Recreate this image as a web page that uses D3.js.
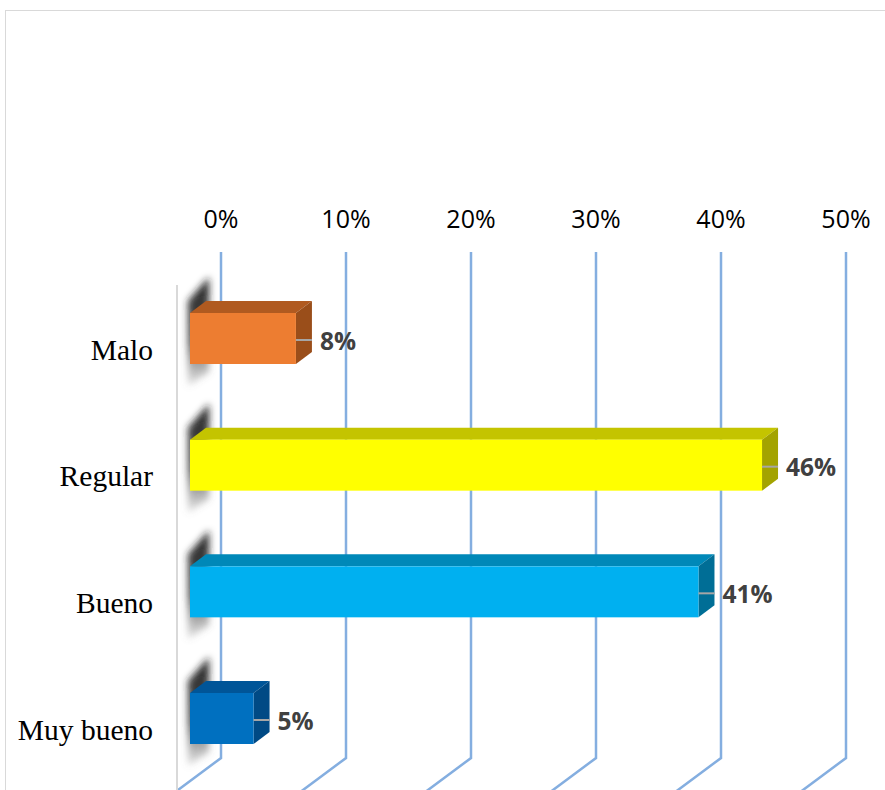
<!DOCTYPE html>
<html><head><meta charset="utf-8">
<script src="https://cdn.jsdelivr.net/npm/d3@7"></script>
<style>html,body{margin:0;padding:0;background:#fff;overflow:hidden}</style>
</head><body>
<svg id="chart" width="885" height="790"></svg>
<script>
const categories = ["Malo", "Regular", "Bueno", "Muy bueno"];
const values = [5/59, 27/59, 24/59, 3/59];
const tickValues = [0, 0.1, 0.2, 0.3, 0.4, 0.5];
const frontColors = ["#ED7D31", "#FFFF00", "#00B0F0", "#0070C0"];
const topColors   = ["#B05A20", "#C4C400", "#0088B8", "#005598"];
const sideColors  = ["#9A4E1A", "#A3A300", "#006E96", "#004A85"];

const svg = d3.select("#chart");
const defs = svg.append("defs");
defs.append("filter").attr("id","blur").attr("x","-50%").attr("y","-50%").attr("width","200%").attr("height","200%")
  .append("feGaussianBlur").attr("stdDeviation", 3.5);
const sg = defs.append("linearGradient").attr("id","shadowGrad").attr("x1",0).attr("y1",0).attr("x2",0).attr("y2",1);
sg.append("stop").attr("offset","0%").attr("stop-color","#1a1a1a").attr("stop-opacity",0.95);
sg.append("stop").attr("offset","60%").attr("stop-color","#333").attr("stop-opacity",0.85);
sg.append("stop").attr("offset","100%").attr("stop-color","#777").attr("stop-opacity",0.2);

// outer border
svg.append("rect").attr("x",5.5).attr("y",10.5).attr("width",900).attr("height",800)
  .attr("fill","none").attr("stroke","#d9d9d9").attr("stroke-width",1);

// scales
const xWall = d3.scaleLinear().domain([0, 0.5]).range([221, 846]);
const wallDx = -31, wallDy = 23;         // wall -> bar front plane offset
const depthDx = 16, depthDy = -12;       // bar depth
const xFront = v => xWall(v) + wallDx;
const y = d3.scalePoint().domain(categories).range([338.5, 718.5]);
const barH = 51;

// gridlines on back wall + floor
const wallTop = 252, wallBottom = 758;
const grid = svg.append("g");
tickValues.forEach(t => {
  const x = xWall(t);
  grid.append("path")
    .attr("d", `M${x},${wallTop}L${x},${wallBottom}L${x-43},${wallBottom+32}L${x-50},${wallBottom+37}`)
    .attr("fill","none").attr("stroke","#84AEE0").attr("stroke-width",2.5);
});

// left side wall edge
svg.append("line").attr("x1",177).attr("x2",177).attr("y1",285).attr("y2",790)
  .attr("stroke","#d9d9d9").attr("stroke-width",2);

// top axis labels
svg.append("g").selectAll("text").data(tickValues).join("text")
  .attr("x", d => xWall(d)).attr("y", 228)
  .attr("text-anchor","middle")
  .attr("font-family","'Open Sans', sans-serif").attr("font-size", 25)
  .attr("fill","#000")
  .text(d3.format(".0%"));

// shadows
const shadows = svg.append("g").attr("filter","url(#blur)");
categories.forEach((c, i) => {
  const yt = y(c) - barH/2, yb = y(c) + barH/2;
  shadows.append("path")
    .attr("d", `M188,${yt-12}L209,${yt-36}L209,${yb+8}L188,${yb+22}Z`)
    .attr("fill","url(#shadowGrad)");
});

// bars
const bars = svg.append("g").selectAll("g").data(categories).join("g");
bars.each(function(c, i) {
  const g = d3.select(this);
  const x0 = xFront(0), x1 = xFront(values[i]);
  const yt = y(c) - barH/2, yb = y(c) + barH/2;
  // top face
  g.append("path").attr("d",
    `M${x0},${yt}L${x0+depthDx},${yt+depthDy}L${x1+depthDx},${yt+depthDy}L${x1},${yt}Z`)
    .attr("fill", topColors[i]);
  // side face
  g.append("path").attr("d",
    `M${x1},${yt}L${x1+depthDx},${yt+depthDy}L${x1+depthDx},${yb+depthDy}L${x1},${yb}Z`)
    .attr("fill", sideColors[i]);
  // front face
  g.append("rect").attr("x", x0).attr("y", yt).attr("width", x1 - x0).attr("height", barH)
    .attr("fill", frontColors[i]);
  // leader line
  g.append("line").attr("x1", x1).attr("x2", x1 + depthDx).attr("y1", y(c)+1.5).attr("y2", y(c)+1.5)
    .attr("stroke","#a6a6a6").attr("stroke-width",2);
  // value label
  g.append("text").attr("x", x1 + 24).attr("y", y(c) + 11)
    .attr("font-family","'Open Sans', sans-serif").attr("font-weight","bold").attr("font-size",24.5)
    .attr("fill","#404040")
    .text(d3.format(".0%")(values[i]));
});

// category labels
svg.append("g").selectAll("text").data(categories).join("text")
  .attr("x", 153).attr("y", d => y(d) + 21)
  .attr("text-anchor","end")
  .attr("font-family","'Liberation Serif', 'Times New Roman', serif").attr("font-size", 29.5)
  .attr("fill","#000")
  .text(d => d);
</script>
</body></html>
